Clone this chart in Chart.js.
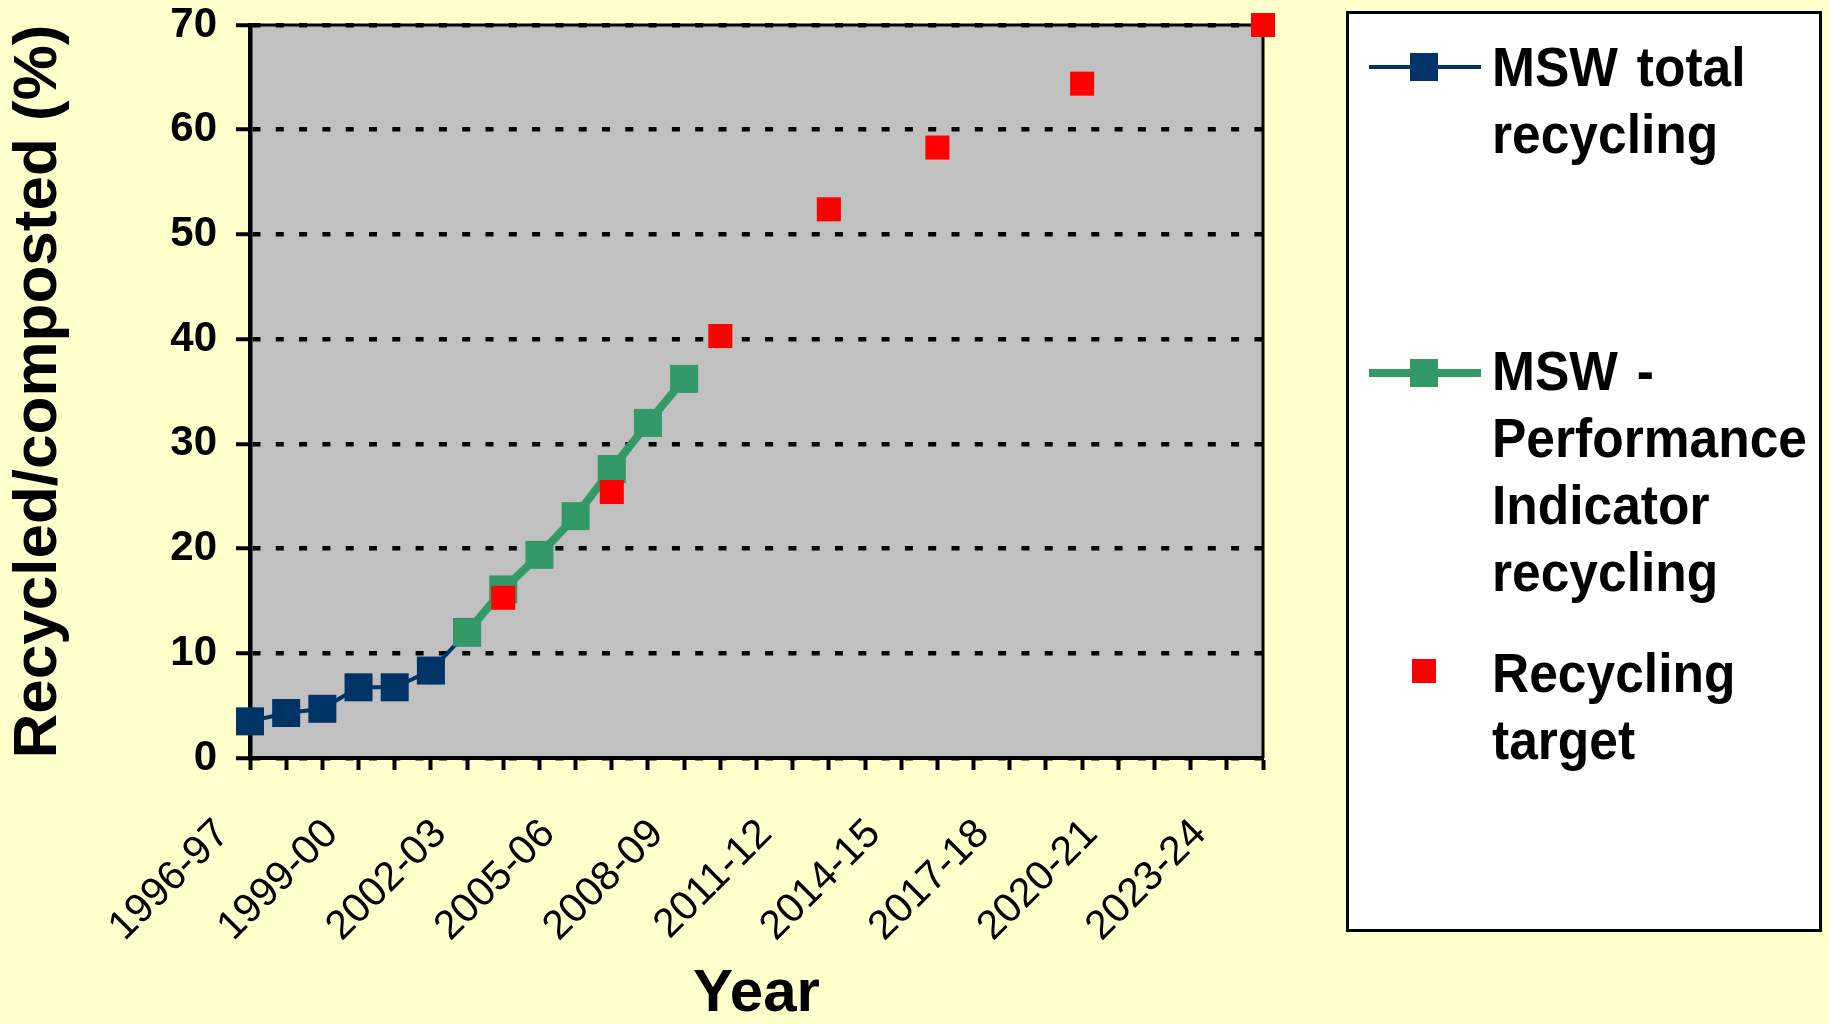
<!DOCTYPE html>
<html>
<head>
<meta charset="utf-8">
<title>Recycled/composted (%)</title>
<script src="https://cdn.jsdelivr.net/npm/chart.js@4.4.1/dist/chart.umd.min.js"></script>
<style>
    html, body { margin: 0; padding: 0; background: #FFFFCC; }
    #wrap { position: relative; width: 1829px; height: 1024px; overflow: hidden; }
    #chart { position: absolute; left: 0; top: 0; }
    #legend {
        position: absolute; left: 1346px; top: 11px;
        width: 476px; height: 921px; box-sizing: border-box;
        border: 3px solid #000; background: #fff;
        font-family: "Liberation Sans", Arial, sans-serif;
    }
    .entry-text {
        position: absolute; left: 143px;
        font-size: 56px; font-weight: bold; line-height: 67px;
        word-spacing: 5px; white-space: nowrap;
        transform: scaleX(0.92); transform-origin: 0 0; color: #000;
    }
    .entry-line { position: absolute; }
    .entry-mark { position: absolute; }
</style>
</head>
<body>
<div id="wrap">
    <canvas id="chart" width="1829" height="1024"></canvas>
    <div id="legend"></div>
</div>
<script>
// Categories (financial years) on the x axis
const categories = [
    '1996-97', '1997-98', '1998-99', '1999-00', '2000-01', '2001-02', '2002-03',
    '2003-04', '2004-05', '2005-06', '2006-07', '2007-08', '2008-09', '2009-10',
    '2010-11', '2011-12', '2012-13', '2013-14', '2014-15', '2015-16', '2016-17',
    '2017-18', '2018-19', '2019-20', '2020-21', '2021-22', '2022-23', '2023-24',
    '2024-25'
];

// MSW total recycling, 1996-97 .. 2002-03
const totalYears = ['1996-97', '1997-98', '1998-99', '1999-00', '2000-01', '2001-02', '2002-03'];
const totalValues = [3.5, 4.3, 4.7, 6.75, 6.75, 8.35, 12.0];

// MSW - Performance Indicator recycling, 2002-03 .. 2008-09
const piYears = ['2002-03', '2003-04', '2004-05', '2005-06', '2006-07', '2007-08', '2008-09'];
const piValues = [12.0, 16.1, 19.4, 23.1, 27.6, 32.0, 36.2];

// Recycling targets
const targetYears = ['2003-04', '2006-07', '2009-10', '2012-13', '2015-16', '2019-20', '2024-25'];
const targetValues = [15.3, 25.4, 40.3, 52.4, 58.3, 64.4, 70];

const yTicks = [0, 10, 20, 30, 40, 50, 60, 70];

const seriesNames = ['MSW total recycling', 'MSW - Performance Indicator recycling', 'Recycling target'];
const legendLines = [
    ['MSW total', 'recycling'],
    ['MSW -', 'Performance', 'Indicator', 'recycling'],
    ['Recycling', 'target']
];

const colors = {
    total: '#003366',
    pi: '#339966',
    target: '#FF0000'
};

Chart.defaults.font.family = '"Liberation Sans", Arial, sans-serif';
Chart.defaults.color = '#000';

const toPoints = (years, values) => years.map((y, i) => ({ x: y, y: values[i] }));

// grey plot area + solid top/right frame
const plotFrame = {
    id: 'plotFrame',
    beforeDraw(chart) {
        const { ctx, chartArea: a } = chart;
        ctx.save();
        ctx.fillStyle = '#C0C0C0';
        ctx.fillRect(a.left, a.top, a.right - a.left, a.bottom - a.top);
        ctx.restore();
    },
    beforeDatasetsDraw(chart) {
        const { ctx, chartArea: a } = chart;
        ctx.save();
        ctx.strokeStyle = '#000';
        ctx.lineWidth = 3;
        ctx.beginPath();
        ctx.moveTo(a.left, a.top);
        ctx.lineTo(a.right, a.top);
        ctx.lineTo(a.right, a.bottom);
        ctx.stroke();
        ctx.restore();
    }
};

const chart = new Chart(document.getElementById('chart'), {
    type: 'line',
    data: {
        labels: categories,
        datasets: [
            {
                label: seriesNames[2],
                data: toPoints(targetYears, targetValues),
                showLine: false,
                pointStyle: 'rect',
                pointRadius: 17,
                pointBorderWidth: 0,
                backgroundColor: colors.target,
                borderColor: colors.target,
                clip: false,
                order: 1
            },
            {
                label: seriesNames[1],
                data: toPoints(piYears, piValues),
                borderColor: colors.pi,
                backgroundColor: colors.pi,
                borderWidth: 8,
                pointStyle: 'rect',
                pointRadius: 19.8,
                pointBorderWidth: 0,
                clip: false,
                order: 2
            },
            {
                label: seriesNames[0],
                data: toPoints(totalYears, totalValues),
                borderColor: colors.total,
                backgroundColor: colors.total,
                borderWidth: 4,
                pointStyle: 'rect',
                pointRadius: 19.8,
                pointBorderWidth: 0,
                clip: false,
                order: 3
            }
        ]
    },
    options: {
        responsive: false,
        animation: false,
        events: [],
        layout: {
            padding: { left: 0, right: 566, top: 25, bottom: 0 }
        },
        scales: {
            x: {
                offset: false,
                grid: {
                    drawOnChartArea: false,
                    drawTicks: true,
                    tickLength: 12,
                    tickWidth: 4,
                    tickColor: '#000'
                },
                border: { display: true, color: '#000', width: 4 },
                ticks: {
                    autoSkip: false,
                    maxRotation: 45,
                    minRotation: 45,
                    padding: 40,
                    labelOffset: -27,
                    font: { size: 41 },
                    callback: (val, i) => (i % 3 === 0 ? categories[i] : '')
                },
                title: {
                    display: true,
                    text: 'Year',
                    font: { size: 60, weight: 'bold', lineHeight: 1 },
                    padding: { top: 0, bottom: 0 }
                },
                afterFit(scale) { scale.height = 266; }
            },
            y: {
                min: 0,
                max: 70,
                afterBuildTicks(scale) { scale.ticks = yTicks.map(v => ({ value: v })); },
                grid: {
                    color: '#000',
                    lineWidth: 4.5,
                    tickBorderDash: [],
                    tickLength: 14,
                    tickWidth: 4,
                    tickColor: '#000'
                },
                // in Chart.js v4 the gridline dash lives under border.dash
                border: { display: true, color: '#000', width: 4.5, dash: [8, 15.3] },
                ticks: {
                    padding: 19,
                    font: { size: 42, weight: 'bold', lineHeight: 0.25 }
                },
                title: {
                    display: true,
                    text: 'Recycled/composted (%)',
                    font: { size: 62, weight: 'bold', lineHeight: 1 },
                    padding: { top: 8, bottom: 0 }
                },
                afterFit(scale) { scale.width = 250; }
            }
        },
        plugins: {
            legend: { display: false },
            tooltip: { enabled: false }
        }
    },
    plugins: [plotFrame]
});

// HTML legend built from the datasets (Excel-style wrapped entries)
function buildLegend() {
    const legend = document.getElementById('legend');
    const entryTops = [19, 323, 625];
    const markCenters = [53, 359, 657];
    const order = [2, 1, 0]; // dataset index for each legend entry

    order.forEach((dsIndex, k) => {
        const ds = chart.data.datasets[dsIndex];
        const cy = markCenters[k];

        if (ds.showLine !== false) {
            const line = document.createElement('div');
            line.className = 'entry-line';
            line.style.left = '20px';
            line.style.width = '112px';
            line.style.height = ds.borderWidth + 'px';
            line.style.top = (cy - ds.borderWidth / 2) + 'px';
            line.style.background = ds.borderColor;
            legend.appendChild(line);
        }

        const side = k === 2 ? 24 : 28;
        const mark = document.createElement('div');
        mark.className = 'entry-mark';
        mark.style.width = side + 'px';
        mark.style.height = side + 'px';
        mark.style.left = (75 - side / 2) + 'px';
        mark.style.top = (cy - side / 2) + 'px';
        mark.style.background = ds.backgroundColor;
        legend.appendChild(mark);

        const text = document.createElement('div');
        text.className = 'entry-text';
        text.style.top = entryTops[k] + 'px';
        text.innerHTML = legendLines[k].join('<br>');
        legend.appendChild(text);
    });
}
buildLegend();
</script>
</body>
</html>
